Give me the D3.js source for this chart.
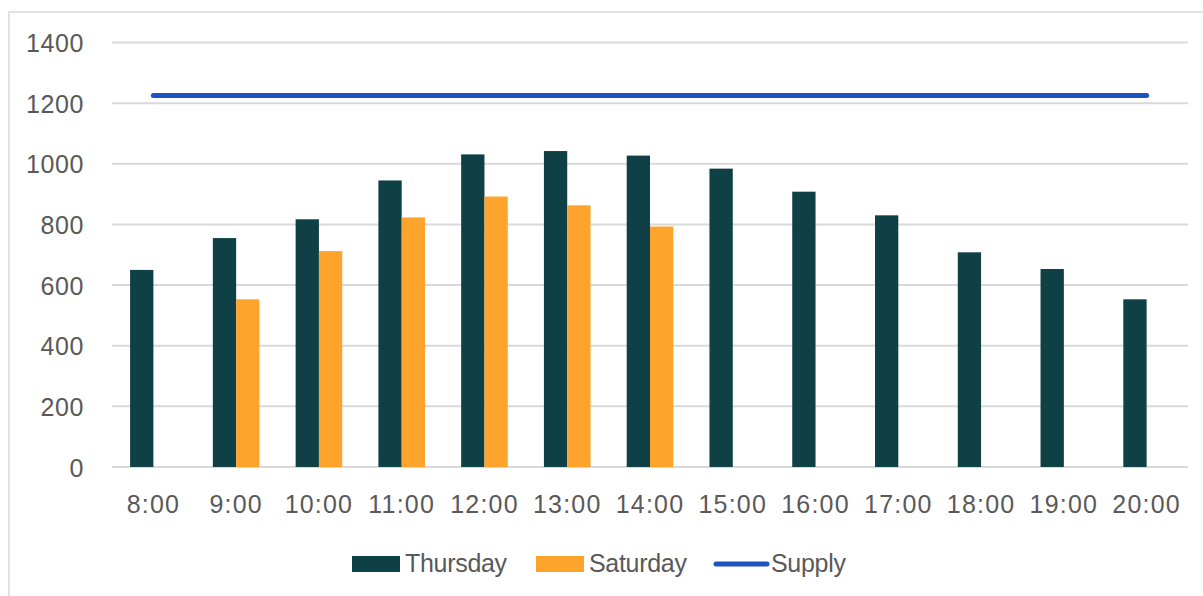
<!DOCTYPE html>
<html>
<head>
<meta charset="utf-8">
<script src="https://cdn.jsdelivr.net/npm/d3@7"></script>
<style>
  html, body { margin: 0; padding: 0; background: #ffffff; }
  svg { display: block; }
  text { font-family: "Liberation Sans", Arial, sans-serif; fill: #595959; }
</style>
</head>
<body>
<svg id="chart" width="1203" height="596"></svg>
<script>
// Hourly demand on two days against a flat supply level
const hours = ["8:00", "9:00", "10:00", "11:00", "12:00", "13:00", "14:00",
               "15:00", "16:00", "17:00", "18:00", "19:00", "20:00"];
const thursday = [650, 755, 817, 945, 1031, 1042, 1027, 984, 908, 830, 708, 653, 553];
const saturday = [null, 553, 712, 823, 892, 863, 793, null, null, null, null, null, null];
const supply = [1225, 1225, 1225, 1225, 1225, 1225, 1225, 1225, 1225, 1225, 1225, 1225, 1225];
const yTicks = [0, 200, 400, 600, 800, 1000, 1200, 1400];
const seriesNames = ["Thursday", "Saturday", "Supply"];

const colors = { Thursday: "#0f4045", Saturday: "#fea32c", Supply: "#1b53bf" };

const svg = d3.select("#chart");

// chart area frame
svg.append("rect")
  .attr("x", 9).attr("y", 12)
  .attr("width", 1210).attr("height", 600)
  .attr("fill", "#ffffff")
  .attr("stroke", "#d9d9d9").attr("stroke-width", 1.5);

const plot = { left: 112, right: 1188, top: 42.5, bottom: 467 };

const x = d3.scaleBand().domain(hours).range([plot.left, plot.right]).padding(0);
const sub = d3.scaleBand().domain(["Thursday", "Saturday"])
  .range([0, x.bandwidth()]).paddingInner(0).paddingOuter(0.776);
const y = d3.scaleLinear().domain([0, 1400]).range([plot.bottom, plot.top]);

// horizontal gridlines
svg.append("g")
  .selectAll("line")
  .data(yTicks)
  .join("line")
  .attr("x1", plot.left).attr("x2", plot.right)
  .attr("y1", d => y(d)).attr("y2", d => y(d))
  .attr("stroke", "#d9d9d9").attr("stroke-width", 2);

// value axis labels
const yAxis = d3.axisLeft(y).tickValues(yTicks).tickFormat(d3.format("d"))
  .tickSize(0).tickPadding(0);
const gy = svg.append("g").attr("transform", "translate(84,0)").call(yAxis);
gy.select(".domain").remove();
gy.selectAll("text")
  .attr("font-size", 25).attr("fill", "#595959")
  .style("font-family", "'Liberation Sans', Arial, sans-serif")
  .attr("dy", "0.36em").attr("letter-spacing", 0.6);

// category axis labels
const xAxis = d3.axisBottom(x).tickSize(0).tickPadding(0);
const gx = svg.append("g").attr("transform", `translate(0,${plot.bottom})`).call(xAxis);
gx.select(".domain").remove();
gx.selectAll("text")
  .attr("font-size", 25).attr("fill", "#595959")
  .style("font-family", "'Liberation Sans', Arial, sans-serif")
  .attr("y", 46).attr("dy", 0).attr("letter-spacing", 1.2);

// bars
const barData = [];
hours.forEach((h, i) => {
  barData.push({ hour: h, series: "Thursday", value: thursday[i] });
  if (saturday[i] != null) barData.push({ hour: h, series: "Saturday", value: saturday[i] });
});

svg.append("g")
  .selectAll("rect")
  .data(barData)
  .join("rect")
  .attr("x", d => x(d.hour) + sub(d.series))
  .attr("width", sub.bandwidth())
  .attr("y", d => y(d.value))
  .attr("height", d => y(0) - y(d.value))
  .attr("fill", d => colors[d.series]);

// supply line
const line = d3.line()
  .x((d, i) => x(hours[i]) + x.bandwidth() / 2)
  .y(d => y(d));

svg.append("path")
  .datum(supply)
  .attr("d", line)
  .attr("fill", "none")
  .attr("stroke", colors.Supply)
  .attr("stroke-width", 5)
  .attr("stroke-linecap", "round");

// legend
const legend = svg.append("g");
const legendItems = [
  { name: "Thursday", x: 352, type: "bar" },
  { name: "Saturday", x: 536, type: "bar" },
  { name: "Supply", x: 716, type: "line" }
];
legendItems.forEach(item => {
  const g = legend.append("g").attr("transform", `translate(${item.x},0)`);
  if (item.type === "bar") {
    g.append("rect").attr("x", 0).attr("y", 556).attr("width", 48).attr("height", 16)
      .attr("fill", colors[item.name]);
  } else {
    g.append("line").attr("x1", 0).attr("x2", 51).attr("y1", 564).attr("y2", 564)
      .attr("stroke", colors[item.name]).attr("stroke-width", 5)
      .attr("stroke-linecap", "round");
  }
  g.append("text")
    .attr("x", item.type === "bar" ? 53 : 55)
    .attr("y", 572)
    .attr("font-size", 25)
    .attr("letter-spacing", -0.3)
    .text(item.name);
});
</script>
</body>
</html>
